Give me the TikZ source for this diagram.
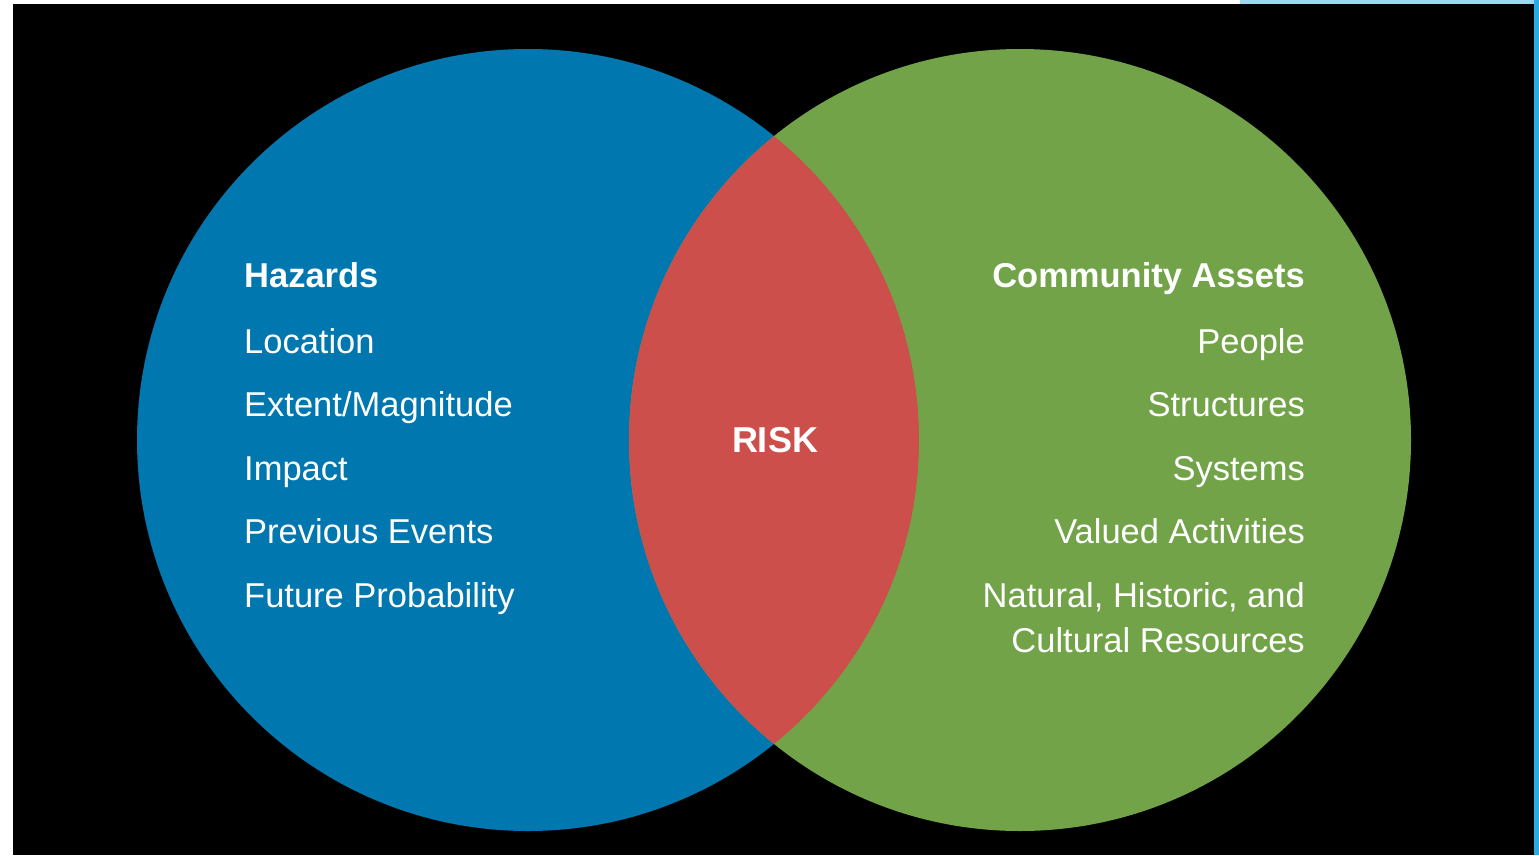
\documentclass[tikz,border=0pt]{standalone}
\usepackage{fontspec}
\setmainfont{Liberation Sans}
\definecolor{hazblue}{HTML}{0077AE}
\definecolor{assetgreen}{HTML}{72A348}
\definecolor{riskred}{HTML}{CD4F4B}
\definecolor{edgeblue}{HTML}{29AAE1}
\tikzset{
  item/.style={inner sep=0pt, text=white, font=\fontsize{34.5}{40}\selectfont},
  head/.style={item, font=\fontsize{34.5}{40}\selectfont\bfseries},
}
\begin{document}
\begin{tikzpicture}[x=1pt,y=-1pt]
  \useasboundingbox (0,0) rectangle (1539,855);
  \fill[white] (0,0) rectangle (1539,855);
  \fill[black] (13,4) rectangle (1534,855);
  \fill[edgeblue!45] (1240,0) rectangle (1534,4);
  \fill[edgeblue] (1534,0) rectangle (1539,855);
  % deux cercles et leur intersection
  \fill[hazblue] (528,440) circle (391);
  \fill[assetgreen] (1020,440) circle (391);
  \begin{scope}
    \clip (528,440) circle (391);
    \fill[riskred] (1020,440) circle (391);
  \end{scope}
  \node[head, anchor=base west] (hazards) at (244,287) {Hazards};
  \node[item, anchor=base west] (location) at (244,353) {Location};
  \node[item, anchor=base west] (extent) at (244,416) {Extent/Magnitude};
  \node[item, anchor=base west] (impact) at (244,480) {Impact};
  \node[item, anchor=base west] (previous) at (244,543) {Previous Events};
  \node[item, anchor=base west] (future) at (244,607) {Future Probability};
  \node[head, font=\fontsize{36}{40}\selectfont\bfseries] (risk) at (775,440) {RISK};
  \node[head, anchor=base east] (assets) at (1305,287) {Community Assets};
  \node[item, anchor=base east] (people) at (1305,353) {People};
  \node[item, anchor=base east] (structures) at (1305,416) {Structures};
  \node[item, anchor=base east] (systems) at (1305,480) {Systems};
  \node[item, anchor=base east] (activities) at (1305,543) {Valued Activities};
  \node[item, anchor=base east] (natural) at (1305,607) {Natural, Historic, and};
  \node[item, anchor=base east] (resources) at (1305,652) {Cultural Resources};
\end{tikzpicture}
\end{document}
